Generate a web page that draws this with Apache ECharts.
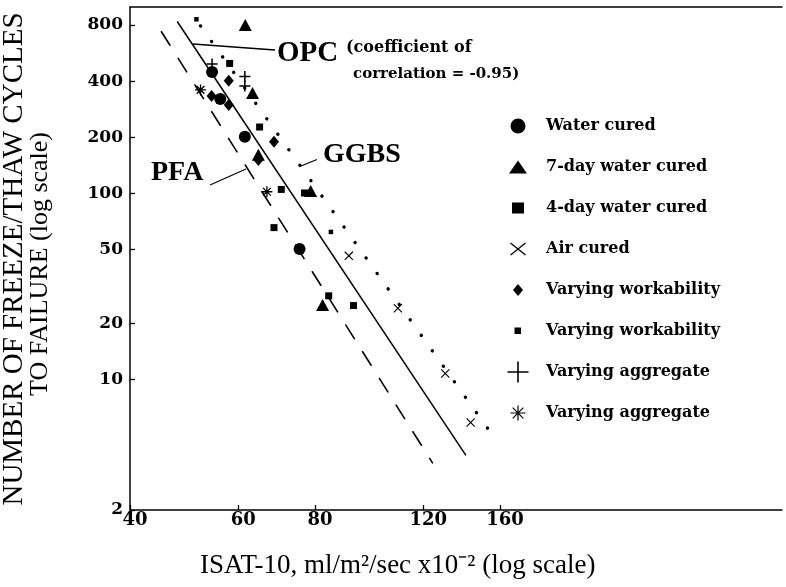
<!DOCTYPE html>
<html>
<head>
<meta charset="utf-8">
<script src="https://cdn.jsdelivr.net/npm/echarts@6.0.0/dist/echarts.min.js"></script>
<style>
  html, body { margin: 0; padding: 0; background: #fff; }
  #chart { width: 786px; height: 587px; }
</style>
</head>
<body>
<div id="chart"></div>
<script>
// tick values on the two log axes
const xTicks = [40, 60, 80, 120, 160];
const yTicks = [2, 10, 20, 50, 100, 200, 400, 800];

// points: [ISAT-10, cycles to failure]
const waterCured  = [[54.4, 448], [56.1, 321], [61.5, 201], [75.5, 50.3]];
const sevenDay    = [[61.6, 801], [63.3, 346], [64.7, 161], [78.7, 103], [82.3, 25.2]];
const fourDay     = [[58.1, 498], [65.0, 227], [70.5, 105], [76.9, 100.5], [68.6, 65.5], [84.2, 28.2], [92.4, 25.0]];
const airCured    = [[90.8, 46.2], [109.1, 24.2], [130.3, 10.8], [143.3, 5.9]];
const workDiamond = [[57.9, 402], [54.3, 333], [57.9, 298], [68.6, 189], [64.7, 151]];
const workDot     = [[51.3, 859], [84.9, 62.1]];
const aggCross    = [[54.4, 494], [61.5, 424], [61.5, 377]];
const aggStar     = [[52.1, 359], [66.8, 102]];

// fitted lines (end points)
const opcLine  = [[47.8, 831], [140.6, 3.95]];
const ggbsLine = [[52.1, 791], [157.9, 4.70]];
const pfaLine  = [[45.0, 737], [124.2, 3.58]];

// thin filled bar between two points, used to build stroke-like symbols
function bar(x1, y1, x2, y2, w) {
  const dx = x2 - x1, dy = y2 - y1, len = Math.hypot(dx, dy);
  const nx = -dy / len * w / 2, ny = dx / len * w / 2;
  return 'M' + (x1 + nx) + ',' + (y1 + ny) + 'L' + (x2 + nx) + ',' + (y2 + ny) +
         'L' + (x2 - nx) + ',' + (y2 - ny) + 'L' + (x1 - nx) + ',' + (y1 - ny) + 'Z';
}
const xShape = (cx, cy, w, h, t) => bar(cx - w / 2, cy - h / 2, cx + w / 2, cy + h / 2, t) + bar(cx + w / 2, cy - h / 2, cx - w / 2, cy + h / 2, t);
const plusShape = (cx, cy, w, h, t) => bar(cx, cy - h / 2, cx, cy + h / 2, t) + bar(cx - w / 2, cy, cx + w / 2, cy, t);
const starShape = (cx, cy, r, t) => plusShape(cx, cy, 2 * r, 2 * r, t) + xShape(cx, cy, 1.414 * r, 1.414 * r, t);

const crossSym = 'path://' + xShape(5, 5, 10, 10, 1.4);
const plusSym = 'path://' + plusShape(5, 5, 10, 10, 1.4);
const starSym = 'path://' + starShape(5, 5, 5, 1.2);

// legend icons: fixed 34x22 box so every glyph keeps its own size
const BOX = 'path://M0,0M34,22';
const legendIcons = [
  BOX + 'M18.5,11A7.5,7.5,0,1,1,3.5,11A7.5,7.5,0,1,1,18.5,11Z',
  BOX + 'M2,17.5L11,4.5L20,17.5Z',
  BOX + 'M5,5.5L17,5.5L17,16.5L5,16.5Z',
  BOX + xShape(11, 11, 15, 12, 1.3),
  BOX + 'M11,5L16,11L11,17L6,11Z',
  BOX + 'M7.5,7.5L14,7.5L14,14L7.5,14Z',
  BOX + plusShape(11, 11, 21, 21, 1.6),
  BOX + starShape(11, 11, 7.5, 1.2)
];

const names = ['Water cured', '7-day water cured', '4-day water cured', 'Air cured',
  'Varying workability (diamond)', 'Varying workability (dot)',
  'Varying aggregate (cross)', 'Varying aggregate (star)'];

function scatter(name, data, symbol, size) {
  return { name: name, type: 'scatter', data: data, symbol: symbol, symbolSize: size,
    itemStyle: { color: '#000', opacity: 1 }, z: 3, silent: true };
}
function fitLine(data, type, width) {
  return { type: 'line', data: data, showSymbol: false, silent: true, z: 2,
    lineStyle: { color: '#000', width: width, type: type, cap: 'round' } };
}

const serif = '"Liberation Serif", "Times New Roman", serif';
const wide = '"DejaVu Serif", serif';

const chart = echarts.init(document.getElementById('chart'));
chart.setOption({
  animation: false,
  backgroundColor: '#fff',
  grid: { left: 130, top: 7, right: 4, bottom: 77 },
  xAxis: [{
    type: 'log', min: 40, max: 460,
    axisLine: { onZero: false, lineStyle: { color: '#000', width: 1.5 } },
    axisTick: { inside: true, length: 5, customValues: xTicks, lineStyle: { color: '#000', width: 1.3 } },
    axisLabel: { customValues: xTicks, margin: 1, padding: [0, 0, 0, 10], color: '#000', fontFamily: wide, fontWeight: 'bold', fontSize: 18 },
    splitLine: { show: false }, minorTick: { show: false }
  }, {
    type: 'log', min: 40, max: 460, position: 'top',
    axisLine: { onZero: false, lineStyle: { color: '#000', width: 1.5 } },
    axisTick: { show: false }, axisLabel: { show: false }, splitLine: { show: false }
  }],
  yAxis: {
    type: 'log', min: 2, max: 1000,
    axisLine: { onZero: false, lineStyle: { color: '#000', width: 1.5 } },
    axisTick: { inside: true, length: 5, customValues: yTicks, lineStyle: { color: '#000', width: 1.3 } },
    axisLabel: { customValues: yTicks, margin: 7, color: '#000', fontFamily: wide, fontWeight: 'bold', fontSize: 17 },
    splitLine: { show: false }, minorTick: { show: false }
  },
  legend: {
    orient: 'vertical', left: 507, top: 115, padding: 0,
    itemWidth: 34, itemHeight: 22, itemGap: 19,
    selectedMode: false,
    textStyle: { color: '#000', fontFamily: wide, fontWeight: 'bold', fontSize: 16 },
    formatter: name => name.replace(/ \(.*\)$/, ''),
    data: names.map((n, i) => ({ name: n, icon: legendIcons[i] }))
  },
  series: [
    fitLine(opcLine, 'solid', 1.5),
    fitLine(ggbsLine, [0.1, 18.9], 3.4),
    fitLine(pfaLine, [16, 15.5], 1.6),
    scatter(names[0], waterCured, 'circle', 12),
    scatter(names[1], sevenDay, 'triangle', [13, 12]),
    scatter(names[2], fourDay, 'rect', 7),
    scatter(names[3], airCured, crossSym, 9),
    scatter(names[4], workDiamond, 'diamond', [10, 12]),
    scatter(names[5], workDot, 'rect', 4.5),
    scatter(names[6], aggCross, plusSym, 11),
    scatter(names[7], aggStar, starSym, 11)
  ],
  graphic: [
    // OPC label
    { type: 'line', shape: { x1: 193, y1: 44, x2: 275, y2: 50 }, style: { stroke: '#000', lineWidth: 1.3 } },
    { type: 'text', x: 277, y: 54, style: { text: 'OPC', fill: '#000', font: 'bold 29px ' + serif, align: 'left', verticalAlign: 'middle' } },
    { type: 'text', x: 346, y: 48, style: { text: '(coefficient of', fill: '#000', font: 'bold 16px ' + wide, align: 'left', verticalAlign: 'middle' } },
    { type: 'text', x: 353, y: 74, style: { text: 'correlation = -0.95)', fill: '#000', font: 'bold 15px ' + wide, align: 'left', verticalAlign: 'middle' } },
    // GGBS label
    { type: 'line', shape: { x1: 301, y1: 166, x2: 317, y2: 159.5 }, style: { stroke: '#000', lineWidth: 1.3 } },
    { type: 'text', x: 323, y: 155, style: { text: 'GGBS', fill: '#000', font: 'bold 28px ' + serif, align: 'left', verticalAlign: 'middle' } },
    // PFA label
    { type: 'line', shape: { x1: 210, y1: 185, x2: 246, y2: 169 }, style: { stroke: '#000', lineWidth: 1.3 } },
    { type: 'text', x: 151, y: 173, style: { text: 'PFA', fill: '#000', font: 'bold 28px ' + serif, align: 'left', verticalAlign: 'middle' } },
    // axis titles
    { type: 'text', x: 14, y: 259, rotation: Math.PI / 2, style: { text: 'NUMBER OF FREEZE/THAW CYCLES', fill: '#000', font: '29px ' + serif, align: 'center', verticalAlign: 'middle' } },
    { type: 'text', x: 40, y: 264, rotation: Math.PI / 2, style: { text: 'TO FAILURE (log scale)', fill: '#000', font: '26px ' + serif, align: 'center', verticalAlign: 'middle' } },
    { type: 'text', x: 200, y: 566, style: { text: 'ISAT-10, ml/m²/sec x10⁻² (log scale)', fill: '#000', font: '27px ' + serif, align: 'left', verticalAlign: 'middle' } }
  ]
});
</script>
</body>
</html>
